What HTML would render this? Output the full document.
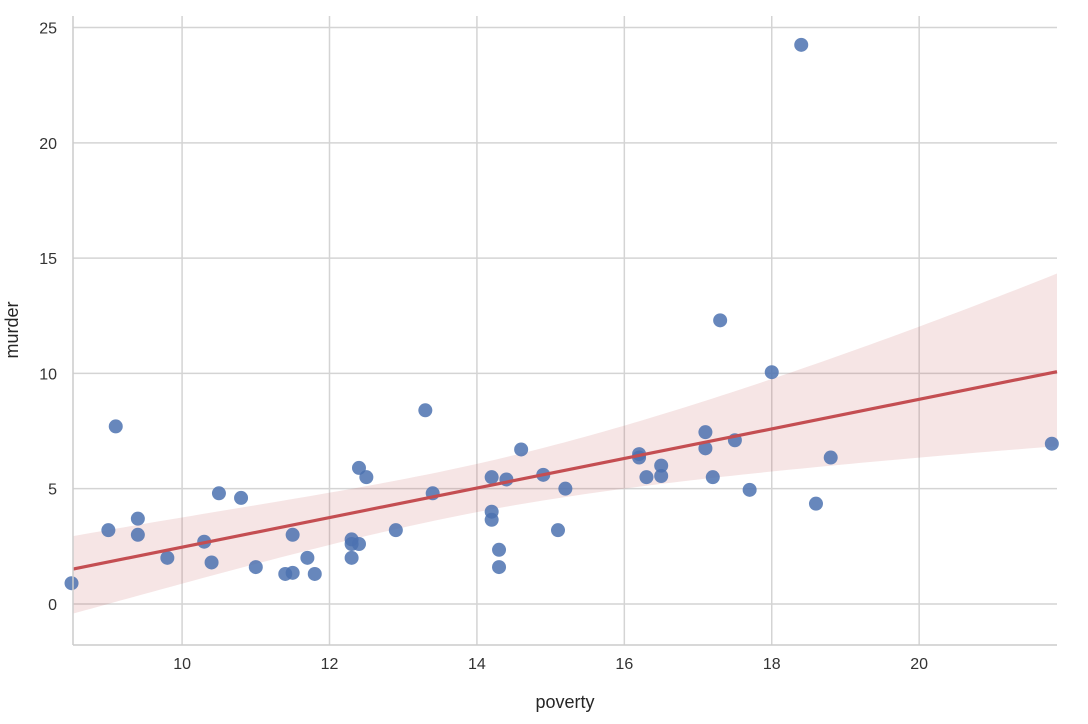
<!DOCTYPE html>
<html><head><meta charset="utf-8"><style>
html,body{margin:0;padding:0;background:#fff;}
svg{display:block;font-family:"Liberation Sans",Arial,sans-serif;}
</style></head><body>
<svg id="chart" width="1088" height="724" viewBox="0 0 1088 724">
<g id="grid"></g>
<g id="band"></g>
<g id="pts"></g>
<g id="reg"></g>
<g id="axes"></g>
<text x="565" y="708" text-anchor="middle" font-size="18" fill="#262626">poverty</text>
<text transform="translate(18,330) rotate(-90)" text-anchor="middle" font-size="18" fill="#262626">murder</text>
</svg>
<script>
const povertyValues=[8.5,9.0,9.1,9.4,9.4,9.8,10.3,10.4,10.5,10.8,11.0,11.4,11.5,11.5,11.7,11.8,12.3,12.3,12.3,12.4,12.4,12.5,12.9,13.3,13.4,14.2,14.2,14.2,14.3,14.3,14.4,14.6,14.9,15.1,15.2,16.2,16.2,16.3,16.5,16.5,17.1,17.1,17.2,17.3,17.5,17.7,18.0,18.4,18.6,18.8,21.8];
const murderValues=[0.9,3.2,7.7,3.7,3.0,2.0,2.7,1.8,4.8,4.6,1.6,1.3,1.35,3.0,2.0,1.3,2.8,2.6,2.0,2.6,5.9,5.5,3.2,8.4,4.8,5.5,4.0,3.65,2.35,1.6,5.4,6.7,5.6,3.2,5.0,6.5,6.35,5.5,6.0,5.55,7.45,6.75,5.5,12.3,7.1,4.95,10.05,24.25,4.35,6.35,6.95];
const xTicks=[10,12,14,16,18,20];
const yTicks=[0,5,10,15,20,25];
const NS="http://www.w3.org/2000/svg";
const L=73,R=1057,T=16,B=645;
const xMin=8.52,xMax=21.87,yMin=-1.78,yMax=25.5;
const sx=v=>L+(v-xMin)/(xMax-xMin)*(R-L);
const sy=v=>B-(v-yMin)/(yMax-yMin)*(B-T);
function mk(tag,attrs,parent){const e=document.createElementNS(NS,tag);for(const k in attrs)e.setAttribute(k,attrs[k]);parent.appendChild(e);return e;}
const grid=document.getElementById('grid'),axes=document.getElementById('axes');
xTicks.forEach(t=>{
 const l=mk('line',{x1:sx(t),x2:sx(t),y1:T,y2:B,stroke:'#d4d4d4','stroke-width':1.5},grid);
 
 
 const tx=mk('text',{x:sx(t),y:B+24,'text-anchor':'middle','font-size':16,fill:'#333'},axes);
 tx.textContent=t;
 
 
});
yTicks.forEach(t=>{
 const l=mk('line',{x1:L,x2:R,y1:sy(t),y2:sy(t),stroke:'#d4d4d4','stroke-width':1.5},grid);
 
 
 const tx=mk('text',{x:L-16,y:sy(t)+6,'text-anchor':'end','font-size':16,fill:'#333'},axes);
 tx.textContent=t;
 
 
});
const ls=mk('line',{x1:L,x2:L,y1:T,y2:B,stroke:'#ccc','stroke-width':1.5},axes);


const bs=mk('line',{x1:L,x2:R,y1:B,y2:B,stroke:'#ccc','stroke-width':1.5},axes);


// regression
const n=povertyValues.length;
const xb=povertyValues.reduce((a,b)=>a+b)/n, yb=murderValues.reduce((a,b)=>a+b)/n;
let sxx=0,sxy=0;for(let i=0;i<n;i++){sxx+=(povertyValues[i]-xb)**2;sxy+=(povertyValues[i]-xb)*(murderValues[i]-yb);}
const b1=sxy/sxx,b0=yb-b1*xb;
let sse=0;for(let i=0;i<n;i++){sse+=(murderValues[i]-b0-b1*povertyValues[i])**2;}
const s=Math.sqrt(sse/(n-2)),tc=2.01;
let up=[],lo=[];
for(let k=0;k<=100;k++){
 const f=k/100;
 const x=xMin+(xMax-xMin)*f;const yh=b0+b1*x;const h=tc*s*Math.sqrt(1/n+(x-xb)**2/sxx);
 const fu=0.82+(1.75-0.82)*f, fl=1.11+(1.33-1.11)*f;
 up.push(sx(x)+','+sy(yh+h*fu));lo.unshift(sx(x)+','+sy(yh-h*fl));
}
const band=mk('polygon',{points:up.concat(lo).join(' '),fill:'rgba(196,78,82,0.15)'},document.getElementById('band'));


const pts=document.getElementById('pts');
for(let i=0;i<n;i++){
 const c=mk('circle',{cx:sx(povertyValues[i]),cy:sy(murderValues[i]),r:7,fill:'#4c72b0','fill-opacity':0.85},pts);
 
 
}
const rl=mk('line',{x1:sx(xMin),y1:sy(b0+b1*xMin),x2:sx(xMax),y2:sy(b0+b1*xMax),stroke:'#c44e52','stroke-width':3.2},document.getElementById('reg'));


</script>
</body></html>
